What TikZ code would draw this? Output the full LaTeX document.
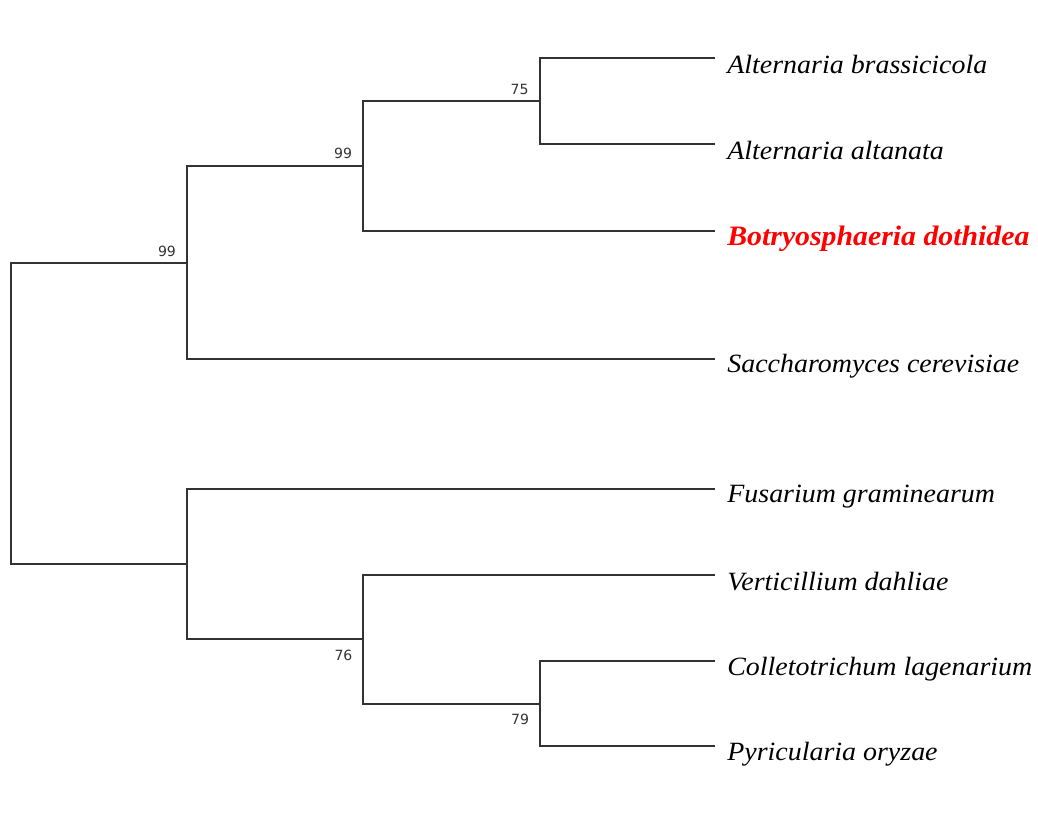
\documentclass[tikz,border=0pt]{standalone}
\usepackage{fontspec}
\setmainfont{Liberation Serif}
\newfontfamily\leaffont[FakeStretch=1.06]{Liberation Serif}
\newfontfamily\bootfont{DejaVu Sans}
\usepackage{tikz}
\usetikzlibrary{positioning}
\definecolor{treegray}{RGB}{51,51,51}
\definecolor{hostred}{RGB}{255,0,0}

\begin{document}
\begin{tikzpicture}[
    x=0.02cm, y=-0.02cm,
    branch/.style={draw=treegray, line width=1.1pt},
    leaf/.style={
        anchor=base west, inner sep=0pt,
        font=\leaffont\fontsize{15}{17}\selectfont\itshape
    },
    host/.style={leaf, text=hostred, font=\leaffont\fontsize{16}{18}\selectfont\bfseries\itshape},
    boot/.style={inner sep=0pt, text=treegray, font=\bootfont\fontsize{8}{10}\selectfont}
]
    \useasboundingbox (0,0) rectangle (1038,833);

    \coordinate (root) at (11,413);
    \coordinate (up) at (187,263);
    \coordinate (n99) at (363,166);
    \coordinate (n75) at (540,101);
    \coordinate (low) at (187,564);
    \coordinate (n76) at (363,639);
    \coordinate (n79) at (540,704);

    \coordinate (t1) at (715,58);
    \coordinate (t2) at (715,144);
    \coordinate (t3) at (715,231);
    \coordinate (t4) at (715,359);
    \coordinate (t5) at (715,489);
    \coordinate (t6) at (715,575);
    \coordinate (t7) at (715,661);
    \coordinate (t8) at (715,746);

    \node[leaf] (ab) at (727,73) {Alternaria brassicicola};
    \node[leaf] (aa) at (727,159) {Alternaria altanata};
    \node[host] (bd) at (727,245) {Botryosphaeria dothidea};
    \node[leaf] (sc) at (727,372) {Saccharomyces cerevisiae};
    \node[leaf] (fg) at (727,502) {Fusarium graminearum};
    \node[leaf] (vd) at (727,590) {Verticillium dahliae};
    \node[leaf] (cl) at (727,675) {Colletotrichum lagenarium};
    \node[leaf] (po) at (727,760) {Pyricularia oryzae};

    \node[boot] (b1) at (167,251) {99};
    \node[boot] (b2) at (343,153.5) {99};
    \node[boot] (b3) at (519.5,89) {75};
    \node[boot] (b4) at (343.5,655) {76};
    \node[boot] (b5) at (520,719.5) {79};

    \draw[branch] (root) |- (up);
    \draw[branch] (root) |- (low);
    \draw[branch] (up) |- (n99);
    \draw[branch] (up) |- (t4);
    \draw[branch] (n99) |- (n75);
    \draw[branch] (n99) |- (t3);
    \draw[branch] (n75) |- (t1);
    \draw[branch] (n75) |- (t2);
    \draw[branch] (low) |- (t5);
    \draw[branch] (low) |- (n76);
    \draw[branch] (n76) |- (t6);
    \draw[branch] (n76) |- (n79);
    \draw[branch] (n79) |- (t7);
    \draw[branch] (n79) |- (t8);
\end{tikzpicture}
\end{document}
